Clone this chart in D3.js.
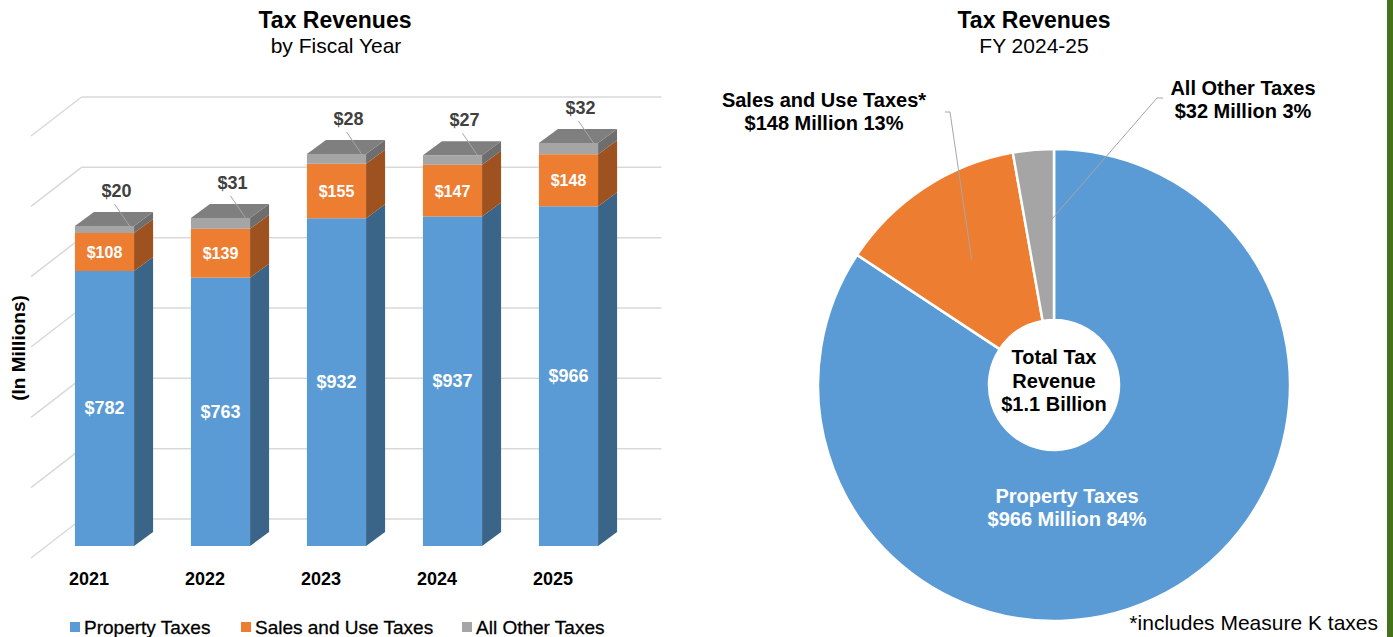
<!DOCTYPE html>
<html><head><meta charset="utf-8">
<script src="https://cdn.jsdelivr.net/npm/d3@7"></script>
<style>
html,body{margin:0;padding:0;background:#fff;}
svg{display:block;font-family:"Liberation Sans",Arial,sans-serif;}
</style></head>
<body><svg id="c" width="1393" height="637"></svg>
<script>
// ---- data ----
const years = ["2021","2022","2023","2024","2025"];
const propertyTaxes = [782, 763, 932, 937, 966];
const salesUseTaxes = [108, 139, 155, 147, 148];
const otherTaxes = [20, 31, 28, 27, 32];
const seriesNames = ["Property Taxes","Sales and Use Taxes","All Other Taxes"];
const gridValues = [0,200,400,600,800,1000,1200];
const pieNames = ["Property Taxes","Sales and Use Taxes*","All Other Taxes"];
const pieValues = [966, 148, 32];
const piePercents = ["84%","13%","3%"];

const svg = d3.select("#c");

// colours
const front = ["#5B9BD5","#ED7D31","#A5A5A5"];
const side  = ["#3B6588","#9E521F","#6E6E6E"];
const topC  = "#7F7F7F";

// right green border
svg.append("rect").attr("x",1387).attr("y",0).attr("width",6).attr("height",637).attr("fill","#44731C");

// ---------- Bar chart ----------
const x = d3.scaleBand().domain(years).range([46.5, 626.5]).paddingInner(0.49).paddingOuter(0.245);
const y = d3.scaleLinear().domain([0,1200]).range([546, 124]);
const wall = {dx:35, dy:-27}, floorOff = {dx:-15.5, dy:12}, depth = {dx:19, dy:-14};
const [r0, r1] = x.range();

const grid = svg.append("g").attr("stroke","#d9d9d9").attr("stroke-width",1.5).attr("fill","none");
gridValues.forEach(v=>{
  grid.append("line").attr("x1", r0+wall.dx).attr("x2", r1+wall.dx)
    .attr("y1", y(v)+wall.dy).attr("y2", y(v)+wall.dy);
  grid.append("line").attr("x1", r0+floorOff.dx).attr("y1", y(v)+floorOff.dy)
    .attr("x2", r0+wall.dx).attr("y2", y(v)+wall.dy);
});

// titles
svg.append("text").attr("x",335).attr("y",28).attr("text-anchor","middle")
  .attr("font-size",23).attr("font-weight","bold").text("Tax Revenues");
svg.append("text").attr("x",336).attr("y",53).attr("text-anchor","middle")
  .attr("font-size",21).text("by Fiscal Year");

// y axis title
svg.append("text").attr("transform","translate(25,348) rotate(-90)").attr("text-anchor","middle")
  .attr("font-size",19).attr("font-weight","bold").text("(In Millions)");

const bars = years.map((yr,i)=>{
  const vals = [propertyTaxes[i], salesUseTaxes[i], otherTaxes[i]];
  let cum = 0;
  const segs = vals.map((v,k)=>{ const s={k, v, y0:cum, y1:cum+v}; cum+=v; return s; });
  return {yr, segs, total:cum};
});

const bg = svg.append("g");
bars.forEach(b=>{
  const x0 = x(b.yr), x1 = x0 + x.bandwidth();
  const g = bg.append("g");
  b.segs.forEach(s=>{
    const ya = y(s.y0), yb = y(s.y1);
    g.append("rect").attr("x",x0).attr("y",yb).attr("width",x1-x0).attr("height",ya-yb).attr("fill",front[s.k]);
    g.append("path").attr("d",`M${x1},${ya}L${x1+depth.dx},${ya+depth.dy}L${x1+depth.dx},${yb+depth.dy}L${x1},${yb}Z`)
      .attr("fill",side[s.k]);
  });
  const yt = y(b.total);
  g.append("path").attr("d",`M${x0},${yt}L${x1},${yt}L${x1+depth.dx},${yt+depth.dy}L${x0+depth.dx},${yt+depth.dy}Z`)
    .attr("fill",topC);
  const cx = x0 + x.bandwidth()/2;
  const p = b.segs[0];
  g.append("text").attr("x",cx).attr("y",(y(p.y0)+y(p.y1))/2+6).attr("text-anchor","middle")
    .attr("fill","#fff").attr("font-weight","bold").attr("font-size",18).text("$"+p.v);
  const s = b.segs[1];
  g.append("text").attr("x",cx).attr("y",(y(s.y0)+y(s.y1))/2+6).attr("text-anchor","middle")
    .attr("fill","#fff").attr("font-weight","bold").attr("font-size",16).text("$"+s.v);
  const o = b.segs[2];
  g.append("line").attr("x1",cx+10).attr("y1",yt-22).attr("x2",cx+25).attr("y2",yt)
    .attr("stroke","#a6a6a6").attr("stroke-width",1);
  g.append("text").attr("x",cx+12).attr("y",yt-29).attr("text-anchor","middle")
    .attr("fill","#404040").attr("font-weight","bold").attr("font-size",18).text("$"+o.v);
  svg.append("text").attr("x",cx+floorOff.dx).attr("y",585).attr("text-anchor","middle")
    .attr("font-weight","bold").attr("font-size",18).attr("fill","#000").text(b.yr);
});

// legend
const legX = [70, 241, 462];
seriesNames.forEach((n,k)=>{
  svg.append("rect").attr("x",legX[k]).attr("y",622).attr("width",10).attr("height",10).attr("fill",front[k]);
  svg.append("text").attr("x",legX[k]+14).attr("y",634).attr("font-size",19).attr("fill","#000")
    .attr("stroke","#000").attr("stroke-width",0.3).text(n);
});

// ---------- Pie chart ----------
const pc = {x:1054, y:385}, R = 236, Rin = 65;
svg.append("text").attr("x",1034).attr("y",28).attr("text-anchor","middle")
  .attr("font-size",23).attr("font-weight","bold").text("Tax Revenues");
svg.append("text").attr("x",1034).attr("y",53).attr("text-anchor","middle")
  .attr("font-size",21).text("FY 2024-25");

const pie = d3.pie().sort(null).startAngle(0).endAngle(2*Math.PI)(pieValues);
const arc = d3.arc().innerRadius(Rin).outerRadius(R);
const pg = svg.append("g").attr("transform",`translate(${pc.x},${pc.y})`);
pg.selectAll("path").data(pie).join("path").attr("d",arc)
  .attr("fill",(d,i)=>front[i]).attr("stroke","#fff").attr("stroke-width",2.5);

const pt = (a,r)=>[Math.sin(a)*r, -Math.cos(a)*r];
const sA = (pie[1].startAngle+pie[1].endAngle)/2;
const sp = pt(sA,150);
pg.append("polyline").attr("points",`${945-pc.x},${112-pc.y} ${950-pc.x},${112-pc.y} ${sp[0]},${sp[1]}`)
  .attr("fill","none").attr("stroke","#a6a6a6").attr("stroke-width",1);
const oA = pie[2].startAngle + 0.9*(pie[2].endAngle-pie[2].startAngle);
const op = pt(oA,165);
pg.append("polyline").attr("points",`${1163-pc.x},${98-pc.y} ${1157-pc.x},${98-pc.y} ${op[0]},${op[1]}`)
  .attr("fill","none").attr("stroke","#a6a6a6").attr("stroke-width",1);

function twoLine(cx, by, l1, l2, color, size){
  svg.append("text").attr("x",cx).attr("y",by).attr("text-anchor","middle").attr("font-weight","bold")
    .attr("font-size",size).attr("fill",color).text(l1);
  svg.append("text").attr("x",cx).attr("y",by+23).attr("text-anchor","middle").attr("font-weight","bold")
    .attr("font-size",size).attr("fill",color).text(l2);
}
twoLine(824, 107, pieNames[1], `$${pieValues[1]} Million ${piePercents[1]}`, "#000", 20);
twoLine(1243, 95, pieNames[2], `$${pieValues[2]} Million ${piePercents[2]}`, "#000", 20);
twoLine(1067, 503, pieNames[0], `$${pieValues[0]} Million ${piePercents[0]}`, "#fff", 20);

const total = d3.sum(pieValues);
svg.append("text").attr("x",pc.x).attr("y",364).attr("text-anchor","middle").attr("font-weight","bold").attr("font-size",20).text("Total Tax");
svg.append("text").attr("x",pc.x).attr("y",388).attr("text-anchor","middle").attr("font-weight","bold").attr("font-size",20).text("Revenue");
svg.append("text").attr("x",pc.x).attr("y",411).attr("text-anchor","middle").attr("font-weight","bold").attr("font-size",20)
  .text(`$${(total/1000).toFixed(1)} Billion`);

svg.append("text").attr("x",1378).attr("y",630).attr("text-anchor","end").attr("font-size",21).attr("fill","#000")
  .text("*includes Measure K taxes");
</script></body></html>
